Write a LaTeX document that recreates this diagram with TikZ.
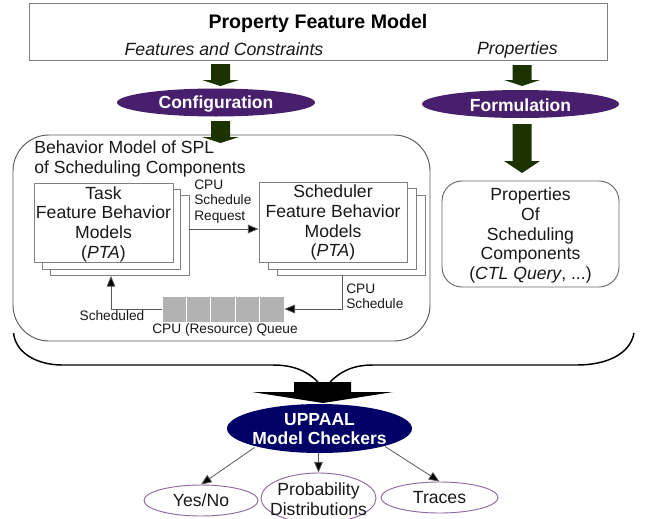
\documentclass[tikz,border=0pt]{standalone}
\usepackage{fontspec}
\setmainfont{Liberation Sans}
\usetikzlibrary{arrows.meta,shapes.geometric,calc}
\definecolor{dgreen}{HTML}{1C3300}
\definecolor{dpurple}{HTML}{481F6D}
\definecolor{dnavy}{HTML}{000066}
\definecolor{thinpurple}{HTML}{8E6A9E}
\newcommand{\fsz}[2]{\fontsize{\dimexpr#1pt*3/4\relax}{\dimexpr#2pt*3/4\relax}\selectfont}
\newcommand{\blockarrow}[7]{% colour, cx, ytop, yneck, ytip, half shaft, half head
  \fill[#1] (#2-#6,#3) -- (#2+#6,#3) -- (#2+#6,#4) -- (#2+#7,#4) -- (#2,#5) -- (#2-#7,#4) -- (#2-#6,#4) -- cycle;}
\tikzset{
  x=0.75pt,y=-0.75pt,
  boxline/.style={draw=black!50,line width=0.7pt,fill=white,rectangle,inner sep=0pt},
  stackbox/.style={boxline},
  body/.style={font=\fsz{17.6}{19.6},align=center,inner sep=0pt,text=black!90},
  small/.style={font=\fsz{13.7}{15.2},align=left,inner sep=0pt,text=black!90},
  oval/.style={ellipse,inner sep=0pt,fill=#1,draw=none},
  whitehead/.style={font=\bfseries\fsz{17.5}{19.5},align=center,text=white,inner sep=0pt,yshift=-0.8pt},
  outcome/.style={ellipse,inner sep=0pt,draw=thinpurple,line width=0.7pt,fill=white},
  conn/.style={draw=black!65,line width=0.6pt,-{Triangle[length=8pt,width=6.5pt,fill=black]}},
  brace/.style={draw=black,line width=1.1pt},
  queuecell/.style={rectangle,fill=black!30,draw=white,line width=0.5pt,inner sep=0pt,minimum width=18.3pt,minimum height=19.5pt},
}
\begin{document}
\begin{tikzpicture}
\useasboundingbox[fill=white] (0,0) rectangle (649,518);

% top box
\node[boxline,minimum width=433.5pt,minimum height=42.75pt] (pfm) at (318.5,31.5) {};
\node[inner sep=0pt,font=\bfseries\fsz{19.6}{20}] (pfmt) at (318,23) {Property Feature Model};
\node[inner sep=0pt,font=\itshape\fsz{17.7}{20},text=black!90] (fc) at (224,49) {Features and Constraints};
\node[inner sep=0pt,font=\itshape\fsz{17.7}{20},text=black!90] (pr) at (517.5,49.5) {Properties};

% behaviour container
\node[boxline,draw=black!65,rounded corners=27pt,minimum width=312.75pt,minimum height=154.5pt] (beh) at (221.5,238) {};

% block arrows
\blockarrow{dgreen}{220.5}{64}{80}{86}{9.5}{18.5}
\blockarrow{dgreen}{220.5}{121}{137}{143}{9.5}{18.5}
\blockarrow{dgreen}{522}{65}{80}{86}{9.5}{18}
\blockarrow{dgreen}{522}{124}{161}{173}{9.5}{18}

\node[oval=dpurple,minimum width=148.5pt,minimum height=21pt,label={[whitehead]center:Configuration}] (cfg) at (216,102.5) {};
\node[oval=dpurple,minimum width=147.75pt,minimum height=21pt,label={[whitehead]center:Formulation}] (frm) at (520.5,104) {};

\node[body,align=left,anchor=north west] (behT) at (34,140.5) {Behavior Model of SPL\\of Scheduling Components};

% task stack
\node[stackbox,minimum width=104.25pt,minimum height=60pt] (task3) at (119.5,235.5) {};
\node[stackbox,minimum width=103.5pt,minimum height=60pt] (task2) at (111,229) {};
\node[stackbox,minimum width=104.25pt,minimum height=59.25pt,label={[body,yshift=-1.2pt]center:Task\\Feature Behavior\\Models\\(\textit{PTA})}] (task1) at (103.5,222.5) {};

% scheduler stack
\node[stackbox,minimum width=111pt,minimum height=60pt] (sch3) at (351,235) {};
\node[stackbox,minimum width=111pt,minimum height=60.75pt] (sch2) at (342,228.5) {};
\node[stackbox,minimum width=111pt,minimum height=60pt,label={[body,yshift=-0.6pt]center:Scheduler\\Feature Behavior\\Models\\(\textit{PTA})}] (sch1) at (333,222) {};

% queue
\node[queuecell] (q1) at (174.2,309) {};
\node[queuecell] (q2) at (198.6,309) {};
\node[queuecell] (q3) at (223,309) {};
\node[queuecell] (q4) at (247.4,309) {};
\node[queuecell] (q5) at (271.8,309) {};

% connectors inside the behaviour model
\coordinate (reqstart) at (task3.east |- 0,229);
\draw[conn] (reqstart) -- (sch1.west |- reqstart);
\coordinate (schdrop) at (342,0);
\draw[conn] (schdrop |- sch3.south) -- (schdrop |- q5.east) -- (q5.east);
\coordinate (schedrise) at (111,0);
\draw[conn] (q1.west) -- (schedrise |- q1.west) -- (schedrise |- task3.south);

\node[small,anchor=west] (lreq) at (194,201.5) {CPU\\Schedule\\Request};
\node[small,anchor=west] (lsch) at (346,296) {CPU\\Schedule};
\node[small] (lsd) at (112,316) {Scheduled};
\node[small,anchor=center] (lq) at (225,329.5) {CPU (Resource) Queue};

% properties box
\node[boxline,draw=black!60,rounded corners=15pt,minimum width=132.75pt,minimum height=79.5pt,label={[body,yshift=-1.2pt]center:Properties\\Of\\Scheduling\\Components\\(\textit{CTL Query}, ...)}] (props) at (530.5,234) {};

% brace
\coordinate (bl) at (13.5,333);
\coordinate (bc1) at (318,382);
\coordinate (bc2) at (330,382);
\coordinate (br) at (634,333);
\draw[brace] (bl) .. controls (16,355) and (40,365) .. (62,365) -- (273,365) .. controls (295,365) and (308,372) .. (bc1);
\draw[brace] (bc2) .. controls (340,372) and (352,365) .. (373,365) -- (577,365) .. controls (605,365) and (630,355) .. (br);

% big black arrow
\fill[black] (294,382) -- (351,382) -- (351,392) -- (393,392) -- (323,403) -- (252,392) -- (294,392) -- cycle;

% UPPAAL
\node[oval=dnavy,minimum width=138.75pt,minimum height=36.75pt,label={[whitehead,yshift=0.4pt]center:UPPAAL\\Model Checkers}] (up) at (319.5,428.5) {};

\node[outcome,minimum width=85.5pt,minimum height=23.25pt,label={[body]center:Yes/No}] (yes) at (201,500.5) {};
\node[outcome,minimum width=86.25pt,minimum height=37.5pt] (prob) at (318.5,498) {};
\node[body] (probT) at (318.5,499) {Probability\\Distributions};
\node[outcome,minimum width=87.75pt,minimum height=23.25pt,label={[body]center:Traces}] (tr) at (439.5,497.5) {};

\coordinate (u1) at ($(up)+(-65,19)$);
\draw[conn] (u1) -- (yes.north);
\draw[conn] (up.south -| prob.north) -- (prob.north);
\coordinate (u3) at ($(up)+(65.5,18)$);
\draw[conn] (u3) -- (tr.north);
\end{tikzpicture}
\end{document}
